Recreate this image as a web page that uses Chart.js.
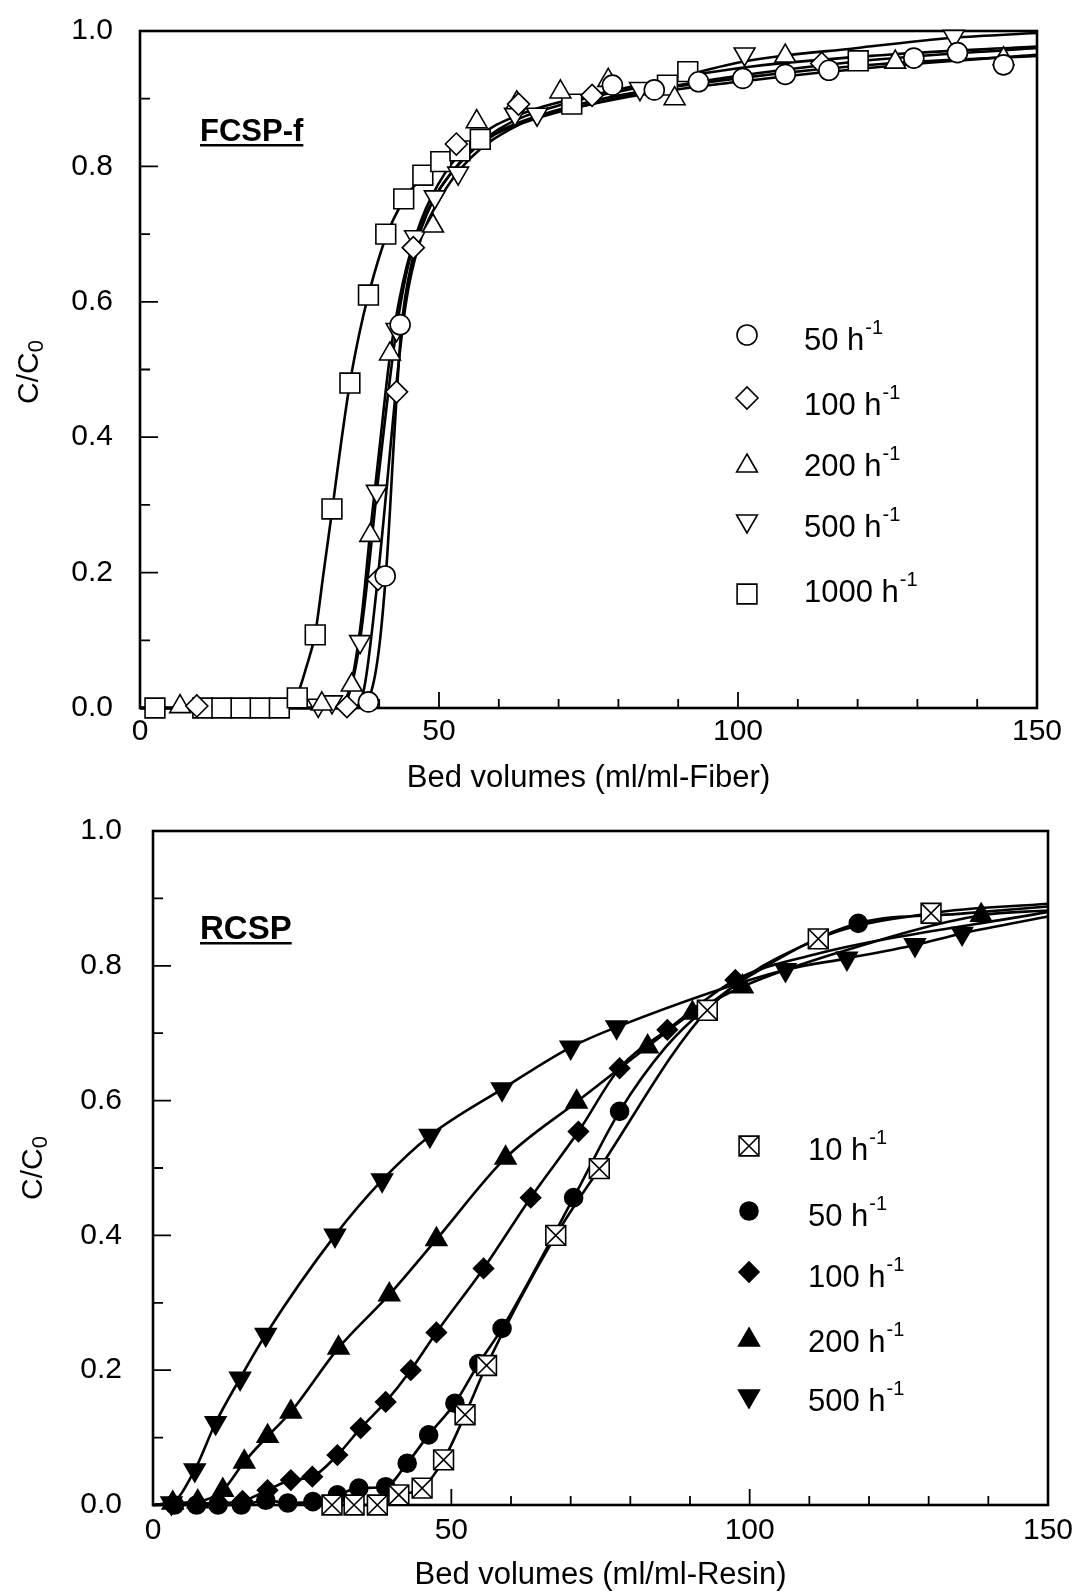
<!DOCTYPE html>
<html>
<head>
<meta charset="utf-8">
<title>Breakthrough curves FCSP-f / RCSP</title>
<script src="https://cdn.jsdelivr.net/npm/chart.js@4/dist/chart.umd.js"></script>
<style>
  html, body { margin: 0; padding: 0; background: #fff; }
  .panel { position: absolute; left: 0; width: 1072px; }
  #topPanel { top: 0; height: 800px; }
  #bottomPanel { top: 800px; height: 793px; }
</style>
</head>
<body>
<div class="panel" id="topPanel"><canvas id="fiberChart"></canvas></div>
<div class="panel" id="bottomPanel"><canvas id="resinChart"></canvas></div>
<script>
const FONT = "'Liberation Sans', Arial, Helvetica, sans-serif";

const xTicks = [0, 50, 100, 150];
const yTicks = [0, 0.2, 0.4, 0.6, 0.8, 1.0];

// FCSP-f markers: [bed volumes, C/C0]
const fiber50 = [[38.2, 0.009], [41, 0.195], [43.5, 0.566], [79, 0.92], [86, 0.913], [93.4, 0.925], [100.8, 0.93],
  [107.9, 0.936], [115.2, 0.942], [129.4, 0.96], [136.7, 0.968], [144.4, 0.95]];
const fiber100 = [[9.5, 0.003], [34.6, 0.002], [39.8, 0.19], [42.9, 0.467], [45.7, 0.68], [52.9, 0.833], [63.3, 0.892],
  [75.6, 0.905], [114, 0.952]];
const fiber200 = [[6.7, 0.002], [30.4, 0.006], [35.4, 0.034], [38.5, 0.255], [41.8, 0.523], [49, 0.712], [56.3, 0.866],
  [63, 0.894], [70.3, 0.91], [78.3, 0.927], [89.4, 0.9], [107.9, 0.963], [126.3, 0.954], [144.4, 0.959]];
const fiber500 = [[29.8, 0.004], [32.1, 0.009], [36.8, 0.098], [39.6, 0.32], [42.9, 0.559], [46, 0.696], [49.3, 0.755],
  [53.2, 0.79], [62.7, 0.877], [66.4, 0.877], [83.6, 0.915], [101.1, 0.966], [136.1, 0.992]];
const fiber1000 = [[2.5, 0], [10.5, 0], [13.7, 0], [16.9, 0], [20.1, 0], [23.3, 0], [26.3, 0.015], [29.3, 0.108],
  [32.1, 0.294], [35.1, 0.48], [38.2, 0.61], [41.1, 0.7], [44.1, 0.752], [47.3, 0.787], [50.3, 0.807], [53.5, 0.823],
  [56.9, 0.84], [72.2, 0.892], [88.2, 0.92], [91.6, 0.94], [120.1, 0.956]];

// FCSP-f fitted curves
const fiber50Fit = [[0, 0], [36, 0], [38.5, 0.02], [40, 0.09], [41.3, 0.22], [42.5, 0.4], [43.7, 0.56], [45.5, 0.66],
  [48, 0.73], [52, 0.79], [58, 0.84], [66, 0.87], [80, 0.9], [100, 0.925], [125, 0.948], [150, 0.965]];
const fiber100Fit = [[0, 0], [35.5, 0], [37.5, 0.03], [39.5, 0.17], [41.3, 0.33], [42.9, 0.48], [44.5, 0.6],
  [46.5, 0.68], [50, 0.75], [55, 0.81], [63, 0.86], [75, 0.895], [100, 0.93], [125, 0.952], [150, 0.963]];
const fiber200Fit = [[0, 0], [33, 0], [35.4, 0.04], [37, 0.13], [38.5, 0.26], [40, 0.38], [41.8, 0.52], [44, 0.63],
  [47, 0.72], [51, 0.79], [56, 0.84], [63, 0.875], [78, 0.91], [100, 0.945], [125, 0.965], [150, 0.977]];
const fiber500Fit = [[0, 0], [33.5, 0], [35.3, 0.03], [36.8, 0.1], [38.3, 0.21], [39.6, 0.32], [41.3, 0.45],
  [42.9, 0.56], [44.5, 0.64], [46, 0.69], [49.3, 0.755], [53, 0.8], [60, 0.855], [70, 0.89], [85, 0.92],
  [101, 0.955], [120, 0.975], [136, 0.99], [150, 0.997]];
const fiber1000Fit = [[0, 0], [24, 0], [26.3, 0.02], [27.8, 0.06], [29.3, 0.11], [30.7, 0.2], [32.1, 0.29],
  [33.6, 0.39], [35.1, 0.48], [36.6, 0.55], [38.2, 0.61], [41.1, 0.695], [44.1, 0.75], [47.3, 0.785],
  [50.3, 0.807], [53.5, 0.824], [57, 0.84], [65, 0.87], [72, 0.885], [90, 0.92], [120, 0.955], [150, 0.975]];

// RCSP markers: [bed volumes, C/C0]
const resin10 = [[30, 0], [33.7, 0], [37.6, 0], [41.2, 0.015], [45.1, 0.025], [48.7, 0.067], [52.3, 0.134],
  [55.9, 0.207], [67.5, 0.4], [74.8, 0.499], [92.9, 0.734], [111.5, 0.84], [130.4, 0.878]];
const resin50 = [[3.6, 0], [7.3, 0], [10.9, 0], [14.8, 0], [18.9, 0.007], [22.6, 0.003], [26.8, 0.005], [30.9, 0.015],
  [34.5, 0.025], [39, 0.027], [42.6, 0.062], [46.2, 0.104], [50.6, 0.151], [54.6, 0.21], [58.5, 0.262],
  [70.5, 0.456], [78.2, 0.584], [118.2, 0.863]];
const resin100 = [[3.3, 0.002], [11, 0.003], [15, 0.006], [19.2, 0.022], [23.1, 0.037], [26.7, 0.042], [30.9, 0.074],
  [34.8, 0.114], [39, 0.153], [43.2, 0.2], [47.5, 0.256], [55.4, 0.351], [63.3, 0.456], [71.3, 0.554],
  [78.2, 0.648], [86.2, 0.705], [97.6, 0.779]];
const resin200 = [[3.3, 0.003], [7.5, 0.005], [11.7, 0.022], [15.3, 0.064], [19.2, 0.102], [23.1, 0.138],
  [31.1, 0.233], [39.6, 0.312], [47.5, 0.394], [59.1, 0.515], [71, 0.598], [82.9, 0.68], [90.4, 0.73],
  [98.8, 0.769], [138.8, 0.875]];
const resin500 = [[3.1, 0.003], [7, 0.052], [10.5, 0.122], [14.6, 0.188], [18.9, 0.253], [30.5, 0.4], [38.4, 0.482],
  [46.4, 0.548], [58.5, 0.617], [70, 0.679], [77.7, 0.709], [106, 0.794], [116.3, 0.811], [127.7, 0.831],
  [135.6, 0.848]];

// points on the RCSP curves where no marker sits
const resin10Line = [[28, 0], [150, 0.892]];
const resin50Line = [[0, 0], [86, 0.68], [93, 0.74], [100, 0.785], [135, 0.877], [150, 0.888]];
const resin100Line = [[0, 0], [110, 0.815], [150, 0.88]];
const resin200Line = [[0, 0], [115, 0.82], [150, 0.882]];
const resin500Line = [[0, 0], [150, 0.873]];

// marker looks (later entries of a mark are drawn on top)
const openCircle = [{ style: 'circle', r: 10, fill: '#fff' }];
const openDiamond = [{ style: 'rectRot', r: 11, fill: '#fff' }];
const openUp = [{ style: 'triangle', r: 12, fill: '#fff' }];
const openDown = [{ style: 'triangle', r: 12, rot: 180, fill: '#fff' }];
const openSquare = [{ style: 'rect', r: 14, fill: '#fff' }];
const crossedSquare = [{ style: 'rect', r: 14, fill: '#fff' }, { style: 'crossRot', r: 13.5, fill: '#fff' }];
const solidCircle = [{ style: 'circle', r: 9, fill: '#000' }];
const solidDiamond = [{ style: 'rectRot', r: 10, fill: '#000' }];
const solidUp = [{ style: 'triangle', r: 12, fill: '#000' }];
const solidDown = [{ style: 'triangle', r: 12, rot: 180, fill: '#000' }];

const byX = pts => pts.slice().sort((a, b) => a[0] - b[0]);

const fiberSeries = [
  { rate: '50', points: fiber50, curve: fiber50Fit, mark: openCircle },
  { rate: '100', points: fiber100, curve: fiber100Fit, mark: openDiamond },
  { rate: '200', points: fiber200, curve: fiber200Fit, mark: openUp },
  { rate: '500', points: fiber500, curve: fiber500Fit, mark: openDown },
  { rate: '1000', points: fiber1000, curve: fiber1000Fit, mark: openSquare }
];
const resinSeries = [
  { rate: '10', points: resin10, curve: byX(resin10.concat(resin10Line)), mark: crossedSquare },
  { rate: '50', points: resin50, curve: byX(resin50.concat(resin50Line)), mark: solidCircle },
  { rate: '100', points: resin100, curve: byX(resin100.concat(resin100Line)), mark: solidDiamond },
  { rate: '200', points: resin200, curve: byX(resin200.concat(resin200Line)), mark: solidUp },
  { rate: '500', points: resin500, curve: byX(resin500.concat(resin500Line)), mark: solidDown }
];

Chart.defaults.font.family = FONT;
Chart.defaults.color = '#000';

function buildDatasets(series) {
  const sets = [];
  series.forEach(s => {
    sets.push({
      data: s.curve.map(([x, y]) => ({ x, y })),
      showLine: true,
      borderColor: '#000',
      borderWidth: 2.6,
      pointRadius: 0,
      pointHoverRadius: 0,
      cubicInterpolationMode: 'monotone',
      clip: false,
      order: 2
    });
    s.mark.forEach((m, k) => {
      sets.push({
        data: s.points.map(([x, y]) => ({ x, y })),
        showLine: false,
        pointStyle: m.style,
        pointRadius: m.r,
        pointHoverRadius: m.r,
        pointRotation: m.rot || 0,
        pointBackgroundColor: m.fill,
        pointBorderColor: '#000',
        pointBorderWidth: 1.6,
        clip: false,
        order: 1 - k
      });
    });
  });
  return sets;
}

// box, inward ticks, y title, panel label and legend
const panelDecor = {
  id: 'panelDecor',
  beforeDatasetsDraw(chart, args, o) {
    const { ctx, chartArea: a, scales: { x, y } } = chart;
    ctx.save();
    ctx.strokeStyle = '#000';
    ctx.lineWidth = 1.8;
    ctx.beginPath();
    for (let v = 10; v < 150; v += 10) {
      const px = x.getPixelForValue(v);
      const len = v % 50 === 0 ? 16 : 9;
      ctx.moveTo(px, a.bottom);
      ctx.lineTo(px, a.bottom - len);
    }
    for (let i = 1; i < 10; i++) {
      const py = y.getPixelForValue(i / 10);
      const len = i % 2 === 0 ? 18 : 10;
      ctx.moveTo(a.left, py);
      ctx.lineTo(a.left + len, py);
    }
    ctx.stroke();
    ctx.lineWidth = 2.6;
    ctx.strokeRect(a.left, a.top, a.right - a.left, a.bottom - a.top);
    ctx.restore();
  },
  afterDraw(chart, args, o) {
    const { ctx } = chart;
    ctx.save();
    ctx.fillStyle = '#000';

    // y axis title C/C0 with subscript
    ctx.translate(o.yTitleX, o.yTitleY);
    ctx.rotate(-Math.PI / 2);
    ctx.textBaseline = 'alphabetic';
    ctx.font = `30px ${FONT}`;
    const w1 = ctx.measureText('C/C').width;
    ctx.font = `22px ${FONT}`;
    const w2 = ctx.measureText('0').width;
    const start = -(w1 + w2) / 2;
    ctx.font = `30px ${FONT}`;
    ctx.fillText('C/C', start, 0);
    ctx.font = `22px ${FONT}`;
    ctx.fillText('0', start + w1, 5);
    ctx.setTransform(1, 0, 0, 1, 0, 0);

    // panel label, bold underlined
    ctx.font = `bold ${o.labelSize}px ${FONT}`;
    ctx.textBaseline = 'alphabetic';
    ctx.fillText(o.label, o.labelX, o.labelY);
    const lw = ctx.measureText(o.label).width;
    ctx.fillRect(o.labelX, o.labelY + 3, lw, 2.5);

    // legend
    o.series.forEach((s, i) => {
      const sy = o.legendSymbolY[i];
      s.mark.forEach(m => {
        ctx.fillStyle = m.fill;
        ctx.strokeStyle = '#000';
        ctx.lineWidth = 1.6;
        Chart.helpers.drawPoint(ctx, { pointStyle: m.style, radius: m.r, rotation: m.rot || 0, borderWidth: 1.6 },
          o.legendSymbolX, sy);
      });
      ctx.fillStyle = '#000';
      const ty = o.legendTextY[i];
      ctx.textBaseline = 'middle';
      ctx.font = `31px ${FONT}`;
      const main = s.rate + ' h';
      ctx.fillText(main, o.legendTextX, ty);
      const mw = ctx.measureText(main).width;
      ctx.font = `20px ${FONT}`;
      ctx.fillText('-1', o.legendTextX + mw + 1, ty - 13);
    });
    ctx.restore();
  }
};

function makeChart(canvasId, series, cfg) {
  return new Chart(document.getElementById(canvasId), {
    type: 'scatter',
    data: { datasets: buildDatasets(series) },
    options: {
      responsive: true,
      maintainAspectRatio: false,
      animation: false,
      devicePixelRatio: 1,
      layout: { autoPadding: false, padding: { left: 0, top: cfg.top, right: cfg.right, bottom: 0 } },
      scales: {
        x: {
          type: 'linear',
          min: 0,
          max: 150,
          afterBuildTicks: s => { s.ticks = xTicks.map(v => ({ value: v })); },
          afterFit: s => { s.height = cfg.xHeight; s.paddingLeft = 0; s.paddingRight = 0; },
          grid: { display: false, drawTicks: false },
          border: { display: false },
          ticks: { autoSkip: false, maxRotation: 0, padding: cfg.xTickPad, font: { size: 30 }, color: '#000',
            callback: v => String(v) },
          title: { display: true, text: cfg.xTitle, color: '#000', font: { size: 31, lineHeight: 1 },
            padding: { top: 0, bottom: cfg.xTitlePad } }
        },
        y: {
          type: 'linear',
          min: 0,
          max: 1,
          afterBuildTicks: s => { s.ticks = yTicks.map(v => ({ value: v })); },
          afterFit: s => { s.width = cfg.yWidth; s.paddingTop = 0; s.paddingBottom = 0; },
          grid: { display: false, drawTicks: false },
          border: { display: false },
          ticks: { autoSkip: false, padding: cfg.yTickPad, font: { size: 30 }, color: '#000',
            callback: v => Number(v).toFixed(1) }
        }
      },
      plugins: {
        legend: { display: false },
        tooltip: { enabled: false },
        panelDecor: Object.assign({ series }, cfg.decor)
      }
    },
    plugins: [panelDecor]
  });
}

makeChart('fiberChart', fiberSeries, {
  top: 31, right: 35, xHeight: 92, yWidth: 140, xTickPad: 6, yTickPad: 27, xTitlePad: 6,
  xTitle: 'Bed volumes (ml/ml-Fiber)',
  decor: {
    yTitleX: 38, yTitleY: 372, label: 'FCSP-f', labelSize: 31, labelX: 200, labelY: 141,
    legendSymbolX: 747, legendTextX: 804,
    legendSymbolY: [335, 398, 466, 521, 594],
    legendTextY: [341, 406, 467, 528, 593]
  }
});

makeChart('resinChart', resinSeries, {
  top: 31, right: 24, xHeight: 88, yWidth: 153, xTickPad: 8, yTickPad: 31, xTitlePad: 2,
  xTitle: 'Bed volumes (ml/ml-Resin)',
  decor: {
    yTitleX: 42, yTitleY: 368, label: 'RCSP', labelSize: 33, labelX: 200, labelY: 139,
    legendSymbolX: 749, legendTextX: 808,
    legendSymbolY: [346, 411, 472, 540, 596],
    legendTextY: [351, 417, 478, 543, 602]
  }
});
</script>
</body>
</html>
